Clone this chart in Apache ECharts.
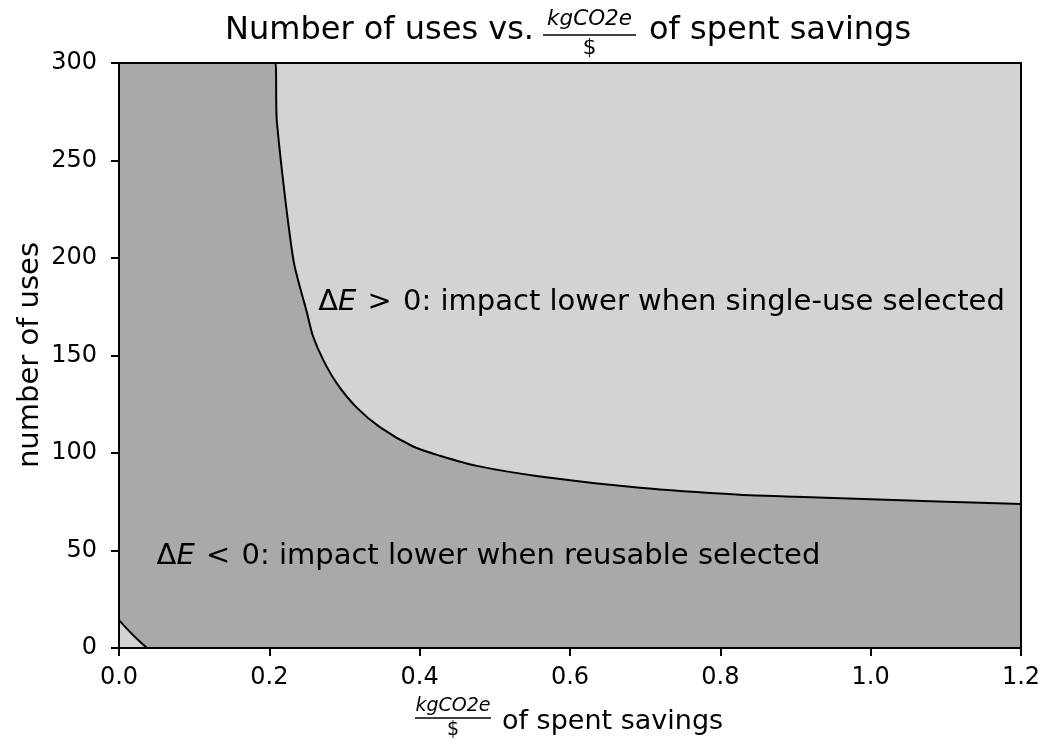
<!DOCTYPE html>
<html>
<head>
<meta charset="utf-8">
<script src="https://cdn.jsdelivr.net/npm/echarts@6/dist/echarts.min.js"></script>
<style>
  html, body { margin: 0; padding: 0; background: #ffffff; }
  #chart { width: 1044px; height: 748px; }
</style>
</head>
<body>
<div id="chart"></div>
<script>
// ΔE = 0 boundary: kgCO2e per $ of spent savings (x) vs. number of uses (y)
const boundaryX = [0.000, 0.208, 0.210, 0.232, 0.250, 0.258, 0.272, 0.290, 0.316, 0.347, 0.392, 0.427, 0.476, 0.560, 0.693, 0.826, 0.900, 1.000, 1.100, 1.200];
const boundaryY = [300, 300, 270, 199, 172, 160, 147.5, 135.6, 123.4, 113.3, 103.2, 98.6, 93.4, 88.0, 82.2, 78.6, 77.6, 76.3, 75.0, 73.8];

// small ΔE > 0 pocket near the origin
const cornerX = [0.000, 0.0186, 0.0373];
const cornerY = [14.3, 6.7, 0];

// axis ticks
const xTicks = [0.0, 0.2, 0.4, 0.6, 0.8, 1.0, 1.2];
const yTicks = [0, 50, 100, 150, 200, 250, 300];

// region annotations, anchored at [x, y] in data space
const regionLabels = [
  { at: [0.265, 177], sign: '>', text: 'impact lower when single-use selected' },
  { at: [0.050, 47], sign: '<', text: 'impact lower when reusable selected' }
];

const FONT = 'DejaVu Sans';
const DARK = '#a9a9a9';
const LIGHT = '#d3d3d3';

const zip = (xs, ys) => xs.map((x, i) => [x, ys[i]]);
const boundary = zip(boundaryX, boundaryY);
const corner = zip(cornerX, cornerY);

const chart = echarts.init(document.getElementById('chart'), null, { renderer: 'canvas' });

const frameAxis = {
  type: 'value',
  axisLine: { show: true, onZero: false, lineStyle: { color: '#000', width: 2 } },
  axisTick: { show: false },
  axisLabel: { show: false },
  splitLine: { show: false },
  z: 10
};

chart.setOption({
  animation: false,
  backgroundColor: '#ffffff',
  grid: {
    left: 119, right: 23, top: 63, bottom: 100,
    show: true, backgroundColor: LIGHT, borderWidth: 0
  },
  xAxis: [
    {
      type: 'value', min: xTicks[0], max: xTicks[xTicks.length - 1], interval: 0.2,
      axisLine: { show: true, onZero: false, lineStyle: { color: '#000', width: 2 } },
      axisTick: { show: true, length: 8, lineStyle: { color: '#000', width: 2 } },
      axisLabel: {
        color: '#000', fontFamily: FONT, fontSize: 24, margin: 18,
        formatter: v => v.toFixed(1)
      },
      splitLine: { show: false },
      z: 10
    },
    Object.assign({}, frameAxis, { position: 'top', min: xTicks[0], max: xTicks[xTicks.length - 1] })
  ],
  yAxis: [
    {
      type: 'value', min: yTicks[0], max: yTicks[yTicks.length - 1], interval: 50,
      axisLine: { show: true, onZero: false, lineStyle: { color: '#000', width: 2 } },
      axisTick: { show: true, length: 8, lineStyle: { color: '#000', width: 2 } },
      axisLabel: { color: '#000', fontFamily: FONT, fontSize: 24, margin: 22 },
      splitLine: { show: false },
      z: 10
    },
    Object.assign({}, frameAxis, { position: 'right', min: yTicks[0], max: yTicks[yTicks.length - 1] })
  ],
  series: [
    {
      // ΔE < 0 region filled down to zero uses, outlined by the ΔE = 0 contour
      type: 'line', data: boundary, symbol: 'none', silent: true,
      smooth: 0.25,
      lineStyle: { color: '#000', width: 2 },
      areaStyle: { color: DARK, opacity: 1 },
      z: 2
    },
    {
      type: 'line', data: corner, symbol: 'none', silent: true,
      smooth: 0.4,
      lineStyle: { color: '#000', width: 2 },
      areaStyle: { color: LIGHT, opacity: 1 },
      z: 3
    }
  ]
});

// fraction "kgCO2e / $" drawn as numerator, bar and denominator
function fraction(cx, barY, halfW, size, gapUp, gapDown) {
  return [
    { type: 'text', x: cx, y: barY - gapUp, z: 20,
      style: { text: 'kgCO2e', fontFamily: FONT, fontStyle: 'italic', fontSize: size,
               fill: '#000', align: 'center', verticalAlign: 'middle' } },
    { type: 'line', z: 20,
      shape: { x1: cx - halfW, y1: barY, x2: cx + halfW, y2: barY },
      style: { stroke: '#000', lineWidth: 1.5 } },
    { type: 'text', x: cx, y: barY + gapDown, z: 20,
      style: { text: '$', fontFamily: FONT, fontSize: size,
               fill: '#000', align: 'center', verticalAlign: 'middle' } }
  ];
}

const graphics = [];

// title
graphics.push({ type: 'text', x: 534, y: 31, z: 20,
  style: { text: 'Number of uses vs.', fontFamily: FONT, fontSize: 32, fill: '#000',
           align: 'right', verticalAlign: 'middle' } });
graphics.push(...fraction(589.5, 35, 46.5, 21.5, 16, 13));
graphics.push({ type: 'text', x: 649, y: 31, z: 20,
  style: { text: 'of spent savings', fontFamily: FONT, fontSize: 32, fill: '#000',
           align: 'left', verticalAlign: 'middle' } });

// x axis title
graphics.push(...fraction(453, 718, 38, 19, 12, 12));
graphics.push({ type: 'text', x: 502, y: 722, z: 20,
  style: { text: 'of spent savings', fontFamily: FONT, fontSize: 27, fill: '#000',
           align: 'left', verticalAlign: 'middle' } });

// y axis title
graphics.push({ type: 'text', x: 30, y: 355, rotation: Math.PI / 2, z: 20,
  style: { text: 'number of uses', fontFamily: FONT, fontSize: 29, fill: '#000',
           align: 'center', verticalAlign: 'middle' } });

// region annotations
regionLabels.forEach(lab => {
  const p = chart.convertToPixel({ gridIndex: 0 }, lab.at);
  graphics.push({ type: 'text', x: p[0], y: p[1], z: 20,
    style: {
      text: '{n|Δ}{i|E}{s| ' + lab.sign + ' }{n|0: ' + lab.text + '}',
      align: 'left', verticalAlign: 'middle',
      rich: {
        n: { fontFamily: FONT, fontSize: 29, fill: '#000' },
        i: { fontFamily: FONT, fontSize: 29, fontStyle: 'italic', fill: '#000' },
        s: { fontFamily: FONT, fontSize: 29, fill: '#000', padding: [0, 2, 0, 2] }
      }
    } });
});

chart.setOption({ graphic: graphics });
</script>
</body>
</html>
